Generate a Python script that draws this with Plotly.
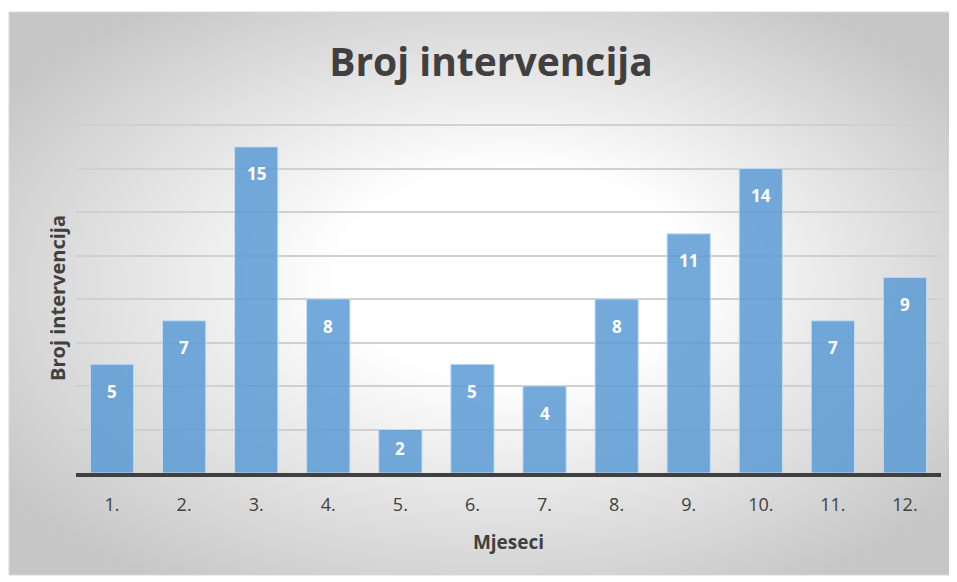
import plotly.graph_objects as go
import base64

months = ["1.", "2.", "3.", "4.", "5.", "6.", "7.", "8.", "9.", "10.", "11.", "12."]
interventions = [5, 7, 15, 8, 2, 5, 4, 8, 11, 14, 7, 9]
y_ticks = [0, 2, 4, 6, 8, 10, 12, 14, 16]

# page body has an 8px margin, so figure origin is at (8, 8)
OFF = 8
W, H = 957 - OFF, 582 - OFF
YMAX = 16.1
UNIT = (473 - 125) / 16.0
L = 76 - OFF
R = W - (941 - OFF)
B = H - (473 - OFF)
T = int(round(125 - OFF - (YMAX - 16) * UNIT))
pw, ph = W - L - R, H - T - B

svg = '''<svg xmlns="http://www.w3.org/2000/svg" width="943" height="563" viewBox="0 0 943 563" preserveAspectRatio="none">
<defs><radialGradient id="g" cx="0.5" cy="0.5" r="0.62" fx="0.55" fy="0.45">
<stop offset="0" stop-color="#ffffff"/><stop offset="0.3" stop-color="#ffffff"/><stop offset="1" stop-color="#c6c6c6"/></radialGradient></defs>
<rect x="0" y="0" width="943" height="563" fill="url(#g)"/></svg>'''
src = "data:image/svg+xml;base64," + base64.b64encode(svg.encode()).decode()

def px_x(p):
    return (p - OFF - L) / pw

def px_y(p):
    return (H - B - (p - OFF)) / ph

fig = go.Figure()
fig.add_trace(go.Bar(
    x=months, y=interventions, width=0.6,
    marker=dict(color="rgba(91,155,213,0.85)", line=dict(color="rgba(200,222,242,0.9)", width=1)),
    hoverinfo="skip",
))

ann = []
px_per_unit = ph / YMAX
for i, v in enumerate(interventions):
    shift = -min(27, v * px_per_unit / 2 - 3)
    ann.append(dict(x=i, y=v, xref="x", yref="y", text=f"<b>{v}</b>", showarrow=False,
                    yanchor="middle", yshift=shift,
                    font=dict(family="Open Sans", size=17, color="white")))

fig.update_layout(
    width=W, height=H,
    margin=dict(l=L, r=R, t=T, b=B),
    paper_bgcolor="white", plot_bgcolor="rgba(0,0,0,0)",
    showlegend=False,
    title=dict(text="<b>Broj intervencija</b>", x=(491 - OFF) / W, xanchor="center", xref="container",
               y=1 - (62 - OFF) / H, yanchor="middle", yref="container",
               font=dict(family="Open Sans", size=39, color="#404040")),
    bargap=0.4,
    images=[dict(source=src, xref="paper", yref="paper", x=px_x(9), y=px_y(12),
                 sizex=(952 - 9) / pw, sizey=(575 - 12) / ph, sizing="stretch",
                 xanchor="left", yanchor="top", layer="below")],
    shapes=[dict(type="rect", xref="paper", yref="paper", x0=px_x(9), x1=px_x(952),
                 y0=px_y(575), y1=px_y(12), line=dict(color="#d9d9d9", width=1), layer="below")],
    annotations=ann,
    xaxis=dict(type="category", showline=True, linecolor="#404040", linewidth=4, ticks="outside", ticklen=12,
               tickcolor="rgba(0,0,0,0)", showgrid=False,
               tickfont=dict(family="Open Sans", size=18, color="#404040"),
               title=dict(text="<b>Mjeseci</b>", standoff=22,
                          font=dict(family="Open Sans", size=19, color="#404040"))),
    yaxis=dict(range=[0, YMAX], tickvals=y_ticks, showticklabels=False, showgrid=True,
               gridcolor="#d0d0d0", gridwidth=1.5, zeroline=False,
               title=dict(text="<b>Broj intervencija</b>", standoff=4,
                          font=dict(family="Open Sans", size=20, color="#404040"))),
)

fig.write_html("out.html")
